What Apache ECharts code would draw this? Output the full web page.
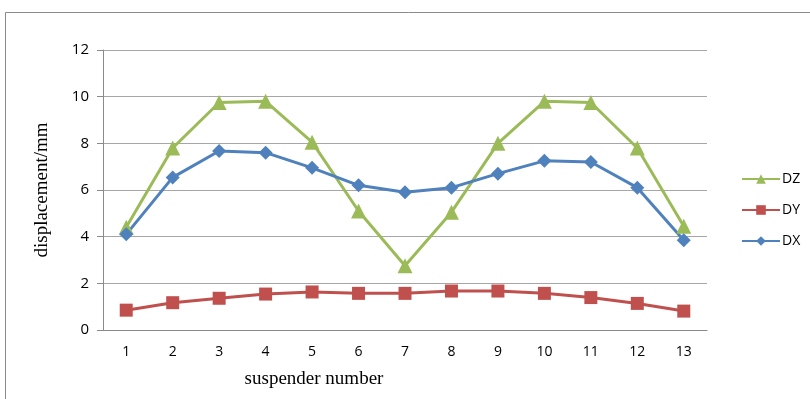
<!DOCTYPE html>
<html>
<head>
<meta charset="utf-8">
<script src="https://cdn.jsdelivr.net/npm/echarts@6/dist/echarts.min.js"></script>
<style>html,body{margin:0;padding:0;background:#fff}#c{width:810px;height:399px}</style>
</head>
<body>
<div id="c"></div>
<script>
const categories = ['1','2','3','4','5','6','7','8','9','10','11','12','13'];
const DZ = [4.4, 7.8, 9.75, 9.8, 8.05, 5.1, 2.75, 5.05, 8.0, 9.8, 9.75, 7.8, 4.45];
const DY = [0.85, 1.17, 1.36, 1.54, 1.63, 1.57, 1.57, 1.67, 1.67, 1.57, 1.39, 1.14, 0.81];
const DX = [4.1, 6.54, 7.67, 7.6, 6.95, 6.2, 5.9, 6.1, 6.7, 7.25, 7.2, 6.1, 3.85];
const yTicks = [0, 2, 4, 6, 8, 10, 12];

const chart = echarts.init(document.getElementById('c'));
chart.setOption({
  animation: false,
  backgroundColor: '#fff',
  grid: { left: 103, right: 103, top: 50, bottom: 69 },
  graphic: [
    { type: 'rect', shape: { x: 5.5, y: 12.5, width: 900, height: 500 }, style: { fill: 'none', stroke: '#8a8a8a', lineWidth: 1 }, z: -1 },
    { type: 'text', x: 314, y: 379, style: { text: 'suspender number', font: '19px "Liberation Serif"', fill: '#000', align: 'center', verticalAlign: 'middle' } },
    { type: 'text', x: 42, y: 190, rotation: Math.PI / 2, style: { text: 'displacement/mm', font: '19px "Liberation Serif"', fill: '#000', align: 'center', verticalAlign: 'middle' } }
  ],
  legend: {
    orient: 'vertical', left: 736, top: 167, itemGap: 17, itemWidth: 38, itemHeight: 12,
    data: ['DZ', 'DY', 'DX'],
    textStyle: { fontFamily: 'Open Sans', fontSize: 14, color: '#000', padding: [0, 0, 0, -3] }
  },
  xAxis: {
    type: 'category', data: categories, boundaryGap: true,
    axisLine: { lineStyle: { color: '#8a8a8a' } },
    axisTick: { show: false },
    axisLabel: { color: '#000', fontFamily: 'Open Sans', fontSize: 14, margin: 15 }
  },
  yAxis: {
    type: 'value', min: 0, max: 12, interval: 2,
    axisLine: { show: true, lineStyle: { color: '#8a8a8a' } },
    axisTick: { show: true, length: 6, lineStyle: { color: '#8a8a8a' } },
    splitLine: { lineStyle: { color: '#a6a6a6' } },
    axisLabel: { color: '#000', fontFamily: 'Open Sans', fontSize: 15, margin: 14,
      formatter: v => yTicks.includes(v) ? String(v) : '' }
  },
  series: [
    { name: 'DZ', type: 'line', data: DZ, symbol: 'triangle', symbolSize: 15,
      itemStyle: { color: '#9BBB59' }, lineStyle: { color: '#9BBB59', width: 3 } },
    { name: 'DY', type: 'line', data: DY, symbol: 'rect', symbolSize: 13,
      itemStyle: { color: '#C0504D' }, lineStyle: { color: '#C0504D', width: 3 } },
    { name: 'DX', type: 'line', data: DX, symbol: 'diamond', symbolSize: 14,
      itemStyle: { color: '#4F81BD' }, lineStyle: { color: '#4F81BD', width: 3 } }
  ]
});
</script>
</body>
</html>
